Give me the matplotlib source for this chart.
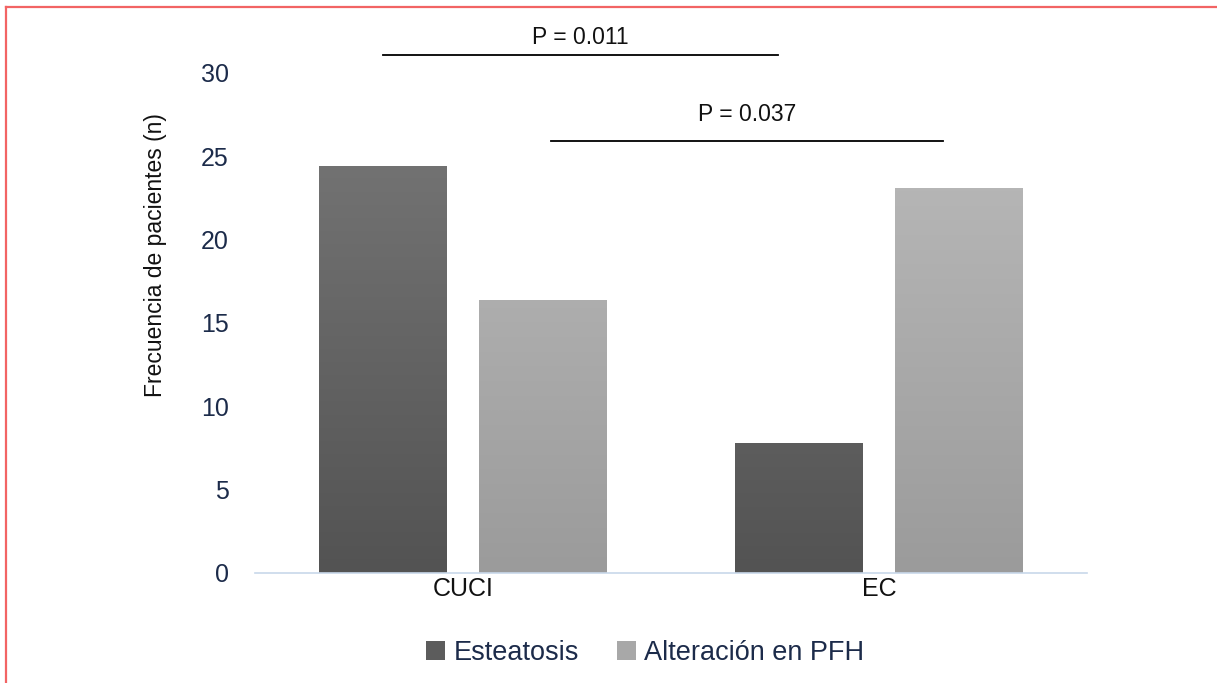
import matplotlib
matplotlib.use('Agg')
import matplotlib.pyplot as plt
import numpy as np
from matplotlib.patches import Patch
from matplotlib.lines import Line2D
from matplotlib.colors import LinearSegmentedColormap

# Data
categories = ['CUCI', 'EC']
series_names = ['Esteatosis', 'Alteración en PFH']
esteatosis = [24.4, 7.8]
alteracion = [16.4, 23.1]
y_ticks = [0, 5, 10, 15, 20, 25, 30]

# significance brackets: (left x, right x, line height, text height, label)
brackets = [(-0.192, 0.757, 31.1, 32.15, 'P = 0.011'),
            (0.212, 1.154, 25.9, 27.5, 'P = 0.037')]

plt.rcParams['font.family'] = ['Liberation Sans', 'DejaVu Sans']

W, H = 1217, 683
fig = plt.figure(figsize=(W / 100, H / 100), dpi=100)
ax = fig.add_axes([255 / W, 1 - 573 / H, (1087 - 255) / W, (573 - 73) / H])

x = np.arange(len(categories))
width = 0.307
offset = 0.192

dark_cmap = LinearSegmentedColormap.from_list('dark', ['#535353', '#797979'])
light_cmap = LinearSegmentedColormap.from_list('light', ['#9b9b9b', '#bdbdbd'])

bars1 = ax.bar(x - offset, esteatosis, width, color='#606060', label=series_names[0])
bars2 = ax.bar(x + offset, alteracion, width, color='#aaaaaa', label=series_names[1])

# vertical gradient fill clipped to each bar
grad = np.linspace(0, 1, 256).reshape(-1, 1)
for bars, cmap in ((bars1, dark_cmap), (bars2, light_cmap)):
    for b in bars:
        x0 = b.get_x()
        im = ax.imshow(grad, cmap=cmap, origin='lower', aspect='auto',
                       extent=[x0, x0 + b.get_width(), 0, 30], zorder=2)
        im.set_clip_path(b)
        b.set_facecolor('none')
        b.set_edgecolor('none')
ax.set_xlim(-0.5, 1.5)
ax.set_ylim(0, 30)

for s in ['top', 'right', 'left']:
    ax.spines[s].set_visible(False)
ax.spines['bottom'].set_color('#c8d8ea')
ax.spines['bottom'].set_linewidth(1.2)

ax.set_yticks(y_ticks)
ax.set_yticklabels([str(t) for t in y_ticks], fontsize=18, color='#1c2b4a')
ax.set_xticks(x)
ax.set_xticklabels(categories, fontsize=18, color='#111111')
ax.tick_params(axis='both', length=0)
ax.tick_params(axis='y', pad=19)
ax.tick_params(axis='x', pad=3)

ax.set_ylabel('Frecuencia de pacientes (n)', fontsize=16.5, color='#111111')
ax.yaxis.set_label_coords((167 - 255) / (1087 - 255), (573 - 255) / 500)

for x_left, x_right, h, th, label in brackets:
    ax.plot([x_left, x_right], [h, h], color='black', lw=1.3, clip_on=False)
    ax.text((x_left + x_right) / 2, th, label, ha='center', va='center',
            fontsize=16.5, color='#111111', clip_on=False)

handles = [Patch(facecolor='#5c5c5c', edgecolor='none'),
           Patch(facecolor='#a8a8a8', edgecolor='none')]
leg = fig.legend(handles, series_names, loc='center', bbox_to_anchor=(645 / W, 1 - 653 / H),
                 ncol=2, frameon=False, fontsize=19.5, handlelength=0.7, handleheight=0.7,
                 handletextpad=0.3, columnspacing=1.4)
for t in leg.get_texts():
    t.set_color('#1c2b4a')

# red frame (top and left edges visible)
red = '#f26464'
fig.add_artist(Line2D([5.5 / W, 1], [1 - 6.5 / H, 1 - 6.5 / H], color=red, lw=1.6,
                      transform=fig.transFigure))
fig.add_artist(Line2D([5.5 / W, 5.5 / W], [0, 1 - 6.5 / H], color=red, lw=1.6,
                      transform=fig.transFigure))

fig.savefig('out.png', dpi=100)
